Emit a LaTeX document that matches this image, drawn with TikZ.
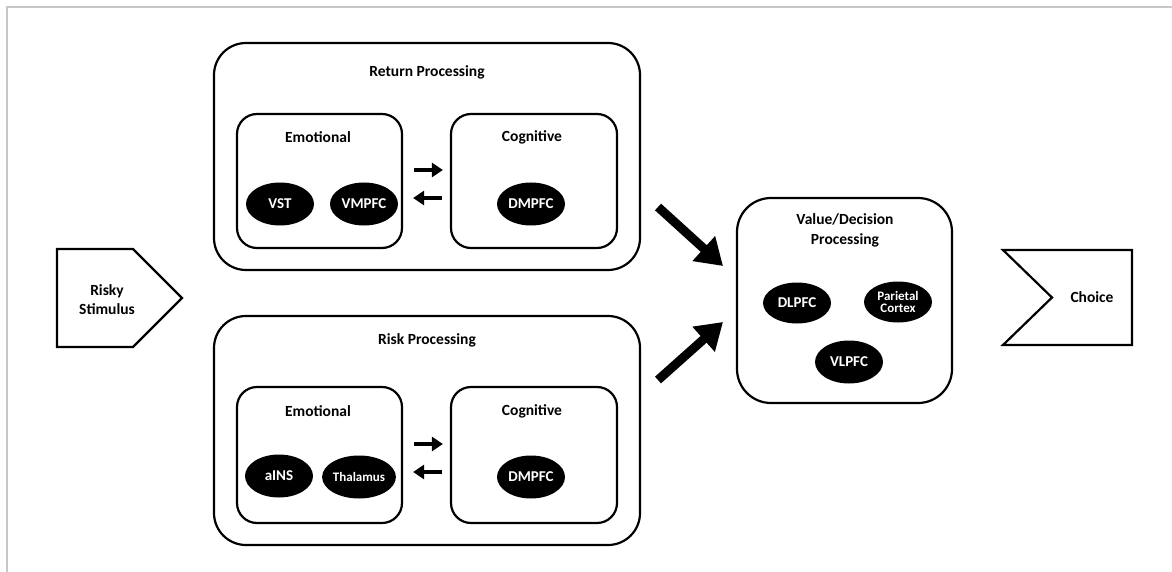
\documentclass[tikz,border=0pt]{standalone}
\usepackage{fontspec}
\setmainfont{Carlito}
\usetikzlibrary{arrows.meta,shapes.geometric}
\begin{document}
\begin{tikzpicture}[x=1pt,y=-1pt,
  box/.style={draw,line width=2.2pt,rounded corners=#1,inner sep=0pt},
  box/.default=20pt,
  title/.style={font=\bfseries\fontsize{15.5}{19}\selectfont,align=center,inner sep=0pt},
  blob/.style={ellipse,fill=black,text=white,minimum width=68pt,minimum height=43pt,inner sep=0pt,align=center,font=\bfseries\fontsize{15}{17}\selectfont},
  smallblob/.style={blob,font=\bfseries\fontsize{13}{14}\selectfont},
  bigarrow/.style={line width=9pt,-{Triangle[length=26pt,width=32pt]}},
  smallarrow/.style={line width=4.5pt,-{Triangle[length=11pt,width=14pt]}},
  frameline/.style={draw=black!22,line width=1.5pt},
  shapeline/.style={draw,line width=2.2pt,line join=miter}]
\useasboundingbox (0,0) rectangle (1172,572);
% frame
\draw[frameline] (1172,7) -- (7,7) -- (7,572);
% Return processing
\node[box=32pt,minimum width=426pt,minimum height=227pt] (ret) at (427,156.5) {};
\node[title] (rettitle) at (427,72) {Return Processing};
\node[box,minimum width=165pt,minimum height=134pt] (remo) at (319.5,181) {};
\node[box,minimum width=166pt,minimum height=134pt] (rcog) at (534,181) {};
\node[title] (remot) at (318,137) {Emotional};
\node[title] (rcogt) at (532,137) {Cognitive};
\node[blob] (vst) at (280,204) {VST};
\node[blob] (vmpfc) at (364,204) {VMPFC};
\node[blob] (rdmpfc) at (531,204) {DMPFC};
\draw[smallarrow,shorten <=11pt,shorten >=7pt] (remo.east |- 0,170) -- (rcog.west |- 0,170);
\draw[smallarrow,shorten <=8pt,shorten >=10pt] (rcog.west |- 0,198) -- (remo.east |- 0,198);
% Risk processing
\node[box=32pt,minimum width=426pt,minimum height=229pt] (risk) at (427,430.5) {};
\node[title] (risktitle) at (427,340) {Risk Processing};
\node[box,minimum width=165pt,minimum height=136pt] (kemo) at (319.5,455) {};
\node[box,minimum width=166pt,minimum height=136pt] (kcog) at (534,455) {};
\node[title] (kemot) at (318,411) {Emotional};
\node[title] (kcogt) at (532,411) {Cognitive};
\node[blob] (ains) at (279,476) {aINS};
\node[smallblob] (thal) at (359,477) {Thalamus};
\node[blob] (kdmpfc) at (531,477) {DMPFC};
\draw[smallarrow,shorten <=11pt,shorten >=7pt] (kemo.east |- 0,444) -- (kcog.west |- 0,444);
\draw[smallarrow,shorten <=8pt,shorten >=10pt] (kcog.west |- 0,472) -- (kemo.east |- 0,472);
% Value / decision
\node[box=34pt,minimum width=215pt,minimum height=205pt] (val) at (844.5,300.5) {};
\node[title,font=\bfseries\fontsize{15.5}{20}\selectfont] (valtitle) at (845,230) {Value/Decision\\Processing};
\node[blob,minimum height=41pt] (dlpfc) at (797,303) {DLPFC};
\node[smallblob,minimum height=41pt] (par) at (898,302) {Parietal\\[-2pt]Cortex};
\node[blob] (vlpfc) at (849,362) {VLPFC};
% big arrows
\coordinate (a1s) at (658,207);
\coordinate (a1e) at (723,266);
\coordinate (a2s) at (658,380);
\coordinate (a2e) at (723,322);
\draw[bigarrow] (a1s) -- (a1e);
\draw[bigarrow] (a2s) -- (a2e);
% Risky stimulus
\draw[shapeline] (57,249) -- (133,249) -- (182,298) -- (133,347) -- (57,347) -- cycle;
\node[title] (risky) at (107,300) {Risky\\Stimulus};
% Choice
\draw[shapeline] (1003,250) -- (1132,250) -- (1132,345) -- (1003,345) -- (1052,297.5) -- cycle;
\node[title] (choice) at (1092,297) {Choice};
\end{tikzpicture}
\end{document}
